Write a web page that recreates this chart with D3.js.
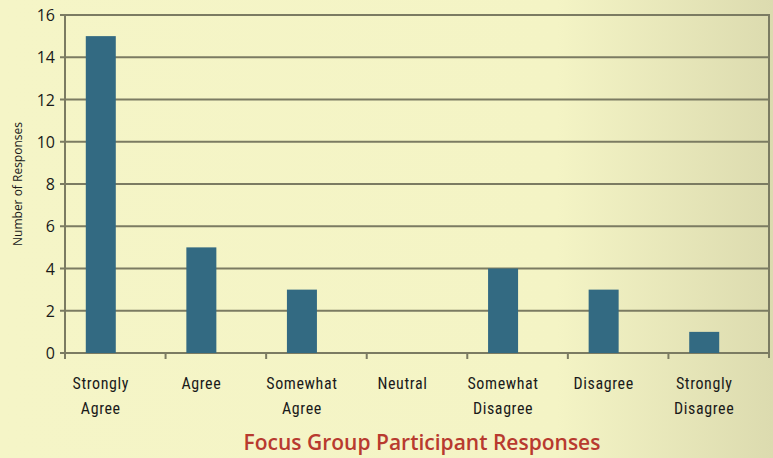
<!DOCTYPE html>
<html>
<head>
<meta charset="utf-8">
<script src="https://cdn.jsdelivr.net/npm/d3@7"></script>
<style>
  body { margin: 0; }
  svg { display: block; }
</style>
</head>
<body>
<svg class="chart" width="773" height="458"></svg>
<script>
// data
var categories = [["Strongly", "Agree"], ["Agree"], ["Somewhat", "Agree"], ["Neutral"],
                  ["Somewhat", "Disagree"], ["Disagree"], ["Strongly", "Disagree"]];
var responses = [15, 5, 3, 0, 4, 3, 1];
var yTicks = [0, 2, 4, 6, 8, 10, 12, 14, 16];

var svg = d3.select(".chart");
var width = +svg.attr("width");
var height = +svg.attr("height");

var plotL = 65, plotR = 769, plotT = 15, plotB = 353;
var gridColor = "#7b7b62";

// background gradient
var grad = svg.append("defs").append("linearGradient")
  .attr("id", "bg").attr("x1", "0").attr("x2", "1").attr("y1", "0").attr("y2", "0");
grad.append("stop").attr("offset", "0").attr("stop-color", "#f5f5c7");
grad.append("stop").attr("offset", "0.72").attr("stop-color", "#f4f4c5");
grad.append("stop").attr("offset", "1").attr("stop-color", "#dcdbaf");
svg.append("rect").attr("width", width).attr("height", height).attr("fill", "url(#bg)");

var idx = categories.map(function (d, i) { return i; });
var x = d3.scaleBand().domain(idx).range([plotL, plotR]);
var y = d3.scaleLinear().domain([0, 16]).range([plotB, plotT]);

// bars sit a bit left of the band centre, like the original
var offset = -14.5;
var barW = 30;

// gridlines
svg.append("g")
  .selectAll("line")
  .data(yTicks)
  .enter()
  .append("line")
    .attr("x1", plotL - 5)
    .attr("x2", plotR)
    .attr("y1", function (d) { return y(d); })
    .attr("y2", function (d) { return y(d); })
    .attr("stroke", gridColor)
    .attr("stroke-width", 2);

// right border
svg.append("line")
  .attr("x1", plotR).attr("x2", plotR).attr("y1", plotT - 1).attr("y2", plotB + 5)
  .attr("stroke", gridColor).attr("stroke-width", 2);

// bars
svg.append("g")
  .selectAll("rect")
  .data(responses)
  .enter()
  .append("rect")
    .attr("x", function (d, i) { return x(i) + x.bandwidth() / 2 + offset - barW / 2; })
    .attr("y", function (d) { return y(d); })
    .attr("width", barW)
    .attr("height", function (d) { return y(0) - y(d); })
    .attr("fill", "#336a82");

// y axis line
svg.append("line")
  .attr("x1", plotL).attr("x2", plotL).attr("y1", plotT - 1).attr("y2", plotB + 5)
  .attr("stroke", gridColor).attr("stroke-width", 2);

// x tick marks at band edges
svg.append("g")
  .selectAll("line")
  .data(idx)
  .enter()
  .append("line")
    .attr("x1", function (d) { return x(d); })
    .attr("x2", function (d) { return x(d); })
    .attr("y1", plotB)
    .attr("y2", plotB + 6)
    .attr("stroke", gridColor)
    .attr("stroke-width", 2);

// y tick labels
svg.append("g")
  .selectAll("text")
  .data(yTicks)
  .enter()
  .append("text")
    .attr("x", 55)
    .attr("y", function (d) { return y(d) + 6; })
    .attr("text-anchor", "end")
    .attr("font-family", "Open Sans, sans-serif")
    .attr("font-size", "16px")
    .attr("fill", "#1a1a1a")
    .text(function (d) { return d; });

// category labels
var catText = svg.append("g")
  .selectAll("text")
  .data(categories)
  .enter()
  .append("text")
    .attr("text-anchor", "middle")
    .attr("font-family", "Liberation Sans Narrow, Roboto Condensed, sans-serif")
    .attr("font-size", "16px")
    .attr("letter-spacing", "0.6px")
    .attr("fill", "#1a1a1a");

catText.selectAll("tspan")
  .data(function (d, i) { return d.map(function (t) { return { t: t, i: i }; }); })
  .enter()
  .append("tspan")
    .attr("x", function (d) { return x(d.i) + x.bandwidth() / 2 + offset; })
    .attr("y", function (d, j) { return 389 + j * 25; })
    .text(function (d) { return d.t; });

// y axis title
svg.append("text")
  .attr("transform", "translate(22," + (plotT + plotB) / 2 + ") rotate(-90)")
  .attr("text-anchor", "middle")
  .attr("font-family", "Open Sans, sans-serif")
  .attr("font-size", "12px")
  .attr("fill", "#1a1a1a")
  .text("Number of Responses");

// chart title
svg.append("text")
  .attr("x", 422)
  .attr("y", 450)
  .attr("text-anchor", "middle")
  .attr("font-family", "Open Sans, sans-serif")
  .attr("font-weight", "600")
  .attr("font-size", "21px")
  .attr("fill", "#b83a2f")
  .text("Focus Group Participant Responses");
</script>
</body>
</html>
